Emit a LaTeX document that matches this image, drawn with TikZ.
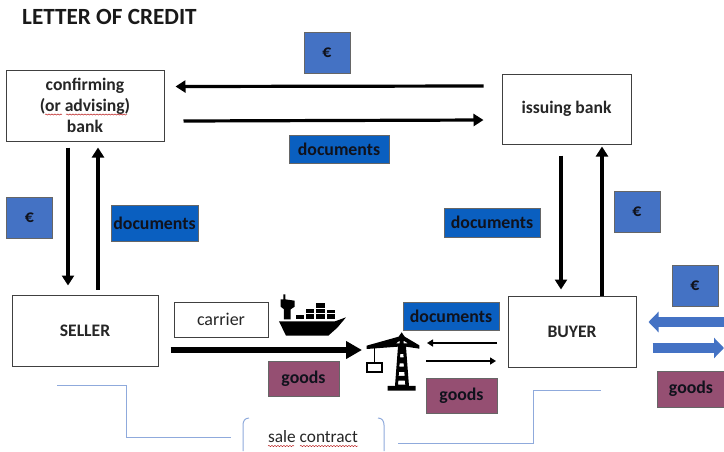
\documentclass[tikz,border=0pt]{standalone}
\usepackage{fontspec}
\setmainfont{Carlito}
\usetikzlibrary{arrows.meta,decorations.pathmorphing}
\definecolor{bluefill}{HTML}{4472C4}
\definecolor{docfill}{HTML}{0A5FC0}
\definecolor{goodsfill}{HTML}{954F72}
\definecolor{linkblue}{HTML}{8FAADC}
\definecolor{inkdark}{HTML}{10121C}
\tikzset{
  x=1pt,y=-1pt,
  partybox/.style={draw=black!75,line width=1pt,fill=white,align=center,font=\fontsize{17.6}{21}\selectfont\bfseries,text=black!85,inner sep=0pt},
  tagbox/.style={draw=black!60,line width=0.7pt,font=\fontsize{17.8}{21}\selectfont\bfseries,text=inkdark,inner sep=0pt},
  eurobox/.style={tagbox,fill=bluefill,minimum width=46pt,minimum height=41pt},
  docbox/.style={tagbox,fill=docfill},
  goodsbox/.style={tagbox,fill=goodsfill},
  flow/.style={-{Triangle[length=10pt,width=12pt]},line width=3.2pt,black},
  thinflow/.style={-{Triangle[length=6pt,width=7pt]},line width=1.6pt,black},
  mainflow/.style={-{Triangle[length=16pt,width=17pt]},line width=6pt,black},
  blueflow/.style={-{Triangle[length=10pt,width=20pt]},line width=10.5pt,bluefill},
  contract/.style={linkblue,line width=1pt},
  squiggle/.style={red!70!black,line width=0.4pt,decorate,decoration={snake,amplitude=0.6pt,segment length=3pt}}
}
\begin{document}
\begin{tikzpicture}
\useasboundingbox (0,0) rectangle (724,451);
\fill[white] (0,0) rectangle (724,451);
\node[anchor=west,font=\fontsize{23.2}{26}\selectfont\bfseries,text=black!90,inner sep=0pt] (title) at (22,17) {LETTER OF CREDIT};

\node[partybox,minimum width=158pt,minimum height=71pt] (conf) at (85,105.5) {confirming\\(or advising)\\bank};
\node[partybox,minimum width=129pt,minimum height=70pt] (issuing) at (566.5,109) {issuing bank};
\node[partybox,minimum width=146pt,minimum height=71pt] (seller) at (85,330.5) {SELLER};
\node[partybox,minimum width=128pt,minimum height=71pt] (buyer) at (572,331.5) {BUYER};
\node[partybox,font=\fontsize{18}{21}\selectfont,minimum width=94pt,minimum height=35pt] (carrier) at (221,319.5) {carrier};

\node[eurobox] (eurotop) at (327,52.5) {€};
\node[docbox,minimum width=100pt,minimum height=28pt] (doctop) at (339,149) {documents};
\node[eurobox] (euroleft) at (29.5,217.5) {€};
\node[docbox,minimum width=87pt,minimum height=36pt] (docleft) at (154.5,223) {documents};
\node[docbox,minimum width=96pt,minimum height=29pt] (docright) at (492,222.5) {documents};
\node[eurobox] (euroright) at (637,211.5) {€};
\node[docbox,minimum width=96pt,minimum height=28pt] (docmid) at (451,316) {documents};
\node[goodsbox,minimum width=71pt,minimum height=35pt] (goodsa) at (303.5,378.5) {goods};
\node[goodsbox,minimum width=71pt,minimum height=35pt] (goodsb) at (461.5,395.5) {goods};
\node[goodsbox,minimum width=68pt,minimum height=36pt] (goodsc) at (691,389) {goods};
\node[eurobox] (eurofar) at (695,285.5) {€};
\node[font=\fontsize{17.3}{20}\selectfont,text=black!85,inner sep=0pt] (sale) at (313,437) {sale contract};

\coordinate (cranein) at (362,350);
\coordinate (craneouta) at (427,343);
\coordinate (craneoutb) at (497,343);
\coordinate (craneoutc) at (426,361);
\coordinate (craneoutd) at (496,361);
\coordinate (edgea) at (724,322);
\coordinate (edgeb) at (724,348);

\draw[flow] ([xshift=-18pt,yshift=23pt]issuing.west) -- ([xshift=11pt,yshift=19pt]conf.east);
\draw[flow] ([xshift=19pt,yshift=-15.5pt]conf.east) -- ([xshift=-18pt,yshift=-11pt]issuing.west);
\draw[flow] ([xshift=-17pt,yshift=-6pt]conf.south) -- ([xshift=-17pt,yshift=9pt]seller.north);
\draw[flow] ([xshift=13pt,yshift=5pt]seller.north) -- ([xshift=13pt,yshift=-6pt]conf.south);
\draw[flow] ([xshift=-5.5pt,yshift=-11pt]issuing.south) -- ([xshift=-11pt,yshift=6pt]buyer.north);
\draw[flow] ([xshift=30pt]buyer.north) -- ([xshift=35.5pt,yshift=-2pt]issuing.south);
\draw[mainflow] ([xshift=12pt,yshift=-19.5pt]seller.east) -- (cranein);
\draw[thinflow] (craneoutb) -- (craneouta);
\draw[thinflow] (craneoutc) -- (craneoutd);
\draw[blueflow] (edgea) -- ([xshift=12pt,yshift=9.5pt]buyer.east);
\draw[blueflow] ([xshift=16pt,yshift=-16.5pt]buyer.east) -- (edgeb);

\draw[contract] (57,385) -- (126,385) -- (126,437) -- (231,437);
\draw[contract] (398,443) -- (533,443) -- (533,390) -- (601,390);
\draw[contract] (249,418) .. controls (245,418) and (243,421) .. (243,425) -- (243,451);
\draw[contract] (378,418) .. controls (382,418) and (384,421) .. (384,425) -- (384,451);

\draw[squiggle] (45,114.5) -- (62,114.5);
\draw[squiggle] (66,114.5) -- (127,114.5);
\draw[squiggle] (268,446) -- (294,446);
\draw[squiggle] (300,446) -- (358,446);

% ship
\begin{scope}[shift={(260,280)},x=0.3333pt,y=-0.3333pt]
\fill[black] (57,124) -- (225,124) -- (258,112) -- (232,143) -- (205,167) -- (78,167) -- cycle;
\fill[black] (62,58) -- (70,58) -- (70,43) -- (76,43) -- (76,58) -- (104,62) -- (104,80) -- (92,88) -- (92,118) -- (72,118) -- (72,88) -- (62,80) -- cycle;
\fill[black] (108,105) rectangle (133,118);
\fill[black] (138,103) rectangle (163,118);
\fill[black] (168,103) rectangle (195,118);
\fill[black] (200,103) rectangle (225,118);
\fill[black] (138,87) rectangle (163,99);
\fill[black] (168,87) rectangle (195,99);
\fill[black] (200,90) rectangle (225,100);
\fill[black] (168,70) rectangle (195,83);
% crane
\fill[black,even odd rule] (425,157) -- (434,170) -- (478,196) -- (478,206) -- (438,200) -- (447,318) -- (467,318) -- (467,332) -- (383,332) -- (383,318) -- (405,318) -- (414,200) -- (320,207) -- (320,197) -- (416,170) -- cycle
 (421,222) -- (430,222) -- (431,232) -- (420,232) -- cycle
 (419,250) -- (431,250) -- (432,260) -- (418,260) -- cycle
 (417,276) -- (433,276) -- (434,288) -- (416,288) -- cycle
 (415,302) -- (435,302) -- (436,314) -- (414,314) -- cycle
 (419,182) -- (408,190) -- (419,190) -- cycle
 (431,182) -- (431,190) -- (444,190) -- cycle;
\draw[black,line width=1.4pt] (343,205) -- (343,246);
\draw[black,line width=1.7pt] (322,248) rectangle (365,276);
\end{scope}
\end{tikzpicture}
\end{document}
